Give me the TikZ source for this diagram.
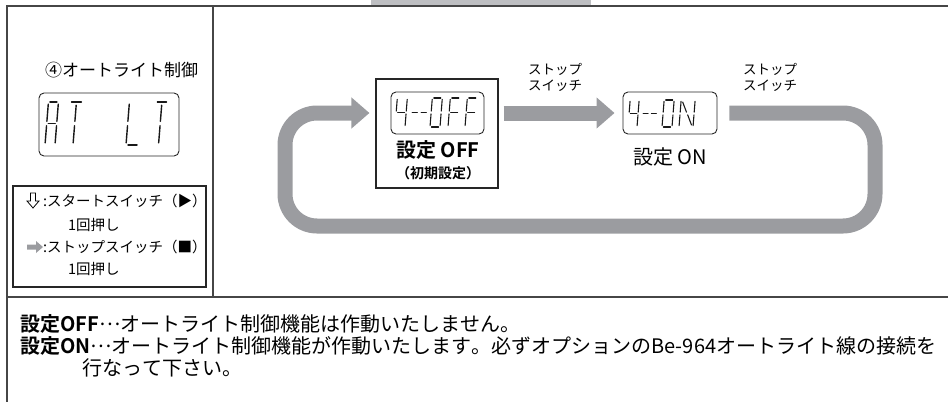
\documentclass[tikz,border=0pt]{standalone}
\usepackage{fontspec}
\setmainfont{Noto Sans CJK JP}[BoldFont={Noto Sans CJK JP Bold},Kerning=Off]
\usetikzlibrary{arrows.meta}
\definecolor{loopgray}{RGB}{155,156,160}
\definecolor{tabgray}{RGB}{190,191,194}
\definecolor{framegray}{RGB}{70,70,70}
% LCD segments in a 1 x 2 cell
\def\sgA{\draw[lcdseg] (0.15,2)--(0.85,2);}
\def\sgB{\draw[lcdseg] (1,1.9)--(1,1.1);}
\def\sgC{\draw[lcdseg] (1,0.9)--(1,0.1);}
\def\sgD{\draw[lcdseg] (0.15,0)--(0.85,0);}
\def\sgE{\draw[lcdseg] (0,0.9)--(0,0.1);}
\def\sgF{\draw[lcdseg] (0,1.9)--(0,1.1);}
\def\sgG{\draw[lcdseg] (0.15,1)--(0.85,1);}
\def\sgH{\draw[lcdseg] (0.5,1.85)--(0.5,1.1);}
\def\sgI{\draw[lcdseg] (0.5,0.9)--(0.5,0.1);}
\def\sgJ{\draw[lcdseg] (0.12,1.85)--(0.45,1.1);}
\def\sgK{\draw[lcdseg] (0.55,0.9)--(0.88,0.15);}
\def\sgM{\draw[lcdseg] (0,1)--(0.35,1);\draw[lcdseg] (0.6,1)--(0.95,1);}
% #1 x, #2 bottom y, #3 width, #4 half height, #5 segments
\newcommand\lcdglyph[5]{\begin{scope}[shift={(#1,#2)},x=#3pt,y=#4pt,xslant=0.08]
  \foreach \s in {#5}{\csname sg\s\endcsname}\end{scope}}
\newcommand\mdots{\smash{\raisebox{0.28em}{…}}}
\begin{document}
\begin{tikzpicture}[x=1pt,y=-1pt,
  frame/.style={draw=framegray,line width=1.4pt},
  boxline/.style={draw=black!85,line width=1.1pt,inner sep=0pt},
  lcdbox/.style={draw=black!85,line width=0.9pt,rounded corners=5pt,inner sep=0pt},
  lcdseg/.style={line width=1.1pt,line cap=round,draw=black!90},
  flow/.style={draw=loopgray,line width=15pt,-{Triangle[width=30pt,length=18pt]}},
  txt/.style={inner sep=0pt}]
\useasboundingbox (0,0) rectangle (948,402);
% frame
\fill[tabgray] (371,0) rectangle (591,6);
\draw[frame] (948,6) -- (7,6) -- (7,402);
\draw[frame] (7,297) -- (948,297);
\draw[frame] (213,6) -- (213,297);
% left panel
\node[txt,anchor=west,font=\fontsize{17}{20}\selectfont] (title) at (45,70) {④オートライト制御};
\node[lcdbox,minimum width=140pt,minimum height=63pt] (atlt) at (109,124.5) {};
\begin{scope}[lcdseg/.append style={line width=1.4pt}]
\lcdglyph{45}{145}{10}{21.5}{A,B,C,E,F,G}
\lcdglyph{66}{145}{14}{21.5}{A,H,I}
\lcdglyph{126}{145}{13}{21.5}{E,F,D}
\lcdglyph{152}{145}{13}{21.5}{A,H,I}
\end{scope}
\node[boxline,draw,minimum width=193pt,minimum height=101pt] (legend) at (109.5,236.5) {};
\draw[line width=0.8pt,fill=white] (30.5,193) -- (35.5,193) -- (35.5,201) -- (39,201) -- (33,208) -- (27,201) -- (30.5,201) -- cycle;
\fill[loopgray] (27,244.5) -- (36,244.5) -- (36,241) -- (43,247) -- (36,253) -- (36,249.5) -- (27,249.5) -- cycle;
\node[txt,anchor=west,font=\fontsize{14.5}{17}\selectfont] (lg1) at (43,201) {:スタートスイッチ（▶）};
\node[txt,anchor=west,font=\fontsize{14.5}{17}\selectfont] (lg2) at (68,225) {1回押し};
\node[txt,anchor=west,font=\fontsize{14.5}{17}\selectfont] (lg3) at (43,247) {:ストップスイッチ（■）};
\node[txt,anchor=west,font=\fontsize{14.5}{17}\selectfont] (lg4) at (68,269) {1回押し};
% right panel
\node[boxline,draw,minimum width=122pt,minimum height=109pt] (offbox) at (437,133.5) {};
\node[lcdbox,minimum width=93pt,minimum height=42pt] (offdisp) at (437.5,113) {};
\lcdglyph{395}{127}{10}{14.5}{F,G,B,C}
\lcdglyph{411}{127}{15}{14.5}{M}
\lcdglyph{430}{127}{10}{14.5}{A,B,C,D,E,F}
\lcdglyph{448}{127}{10}{14.5}{A,E,F,G}
\lcdglyph{465}{127}{10}{14.5}{A,E,F,G}
\node[txt,font=\bfseries\fontsize{20}{24}\selectfont] (offlbl) at (438,150) {設定 OFF};
\node[txt,font=\bfseries\fontsize{14}{17}\selectfont] (offsub) at (438,173) {（初期設定）};
\node[lcdbox,minimum width=94pt,minimum height=42pt] (ondisp) at (670,113) {};
\lcdglyph{628}{127}{9}{13.5}{F,G,B,C}
\lcdglyph{642}{127}{14}{13.5}{M}
\lcdglyph{662}{127}{10}{13.5}{A,B,C,D,E,F}
\lcdglyph{679}{127}{14}{13.5}{E,F,B,C,J,K}
\node[txt,font=\fontsize{20}{24}\selectfont] (onlbl) at (670,157) {設定 ON};
\node[txt,anchor=west,align=left,font=\fontsize{13.5}{16}\selectfont] (sw1) at (528,77) {ストップ\\スイッチ};
\node[txt,anchor=west,align=left,font=\fontsize{13.5}{16}\selectfont] (sw2) at (743,77) {ストップ\\スイッチ};
% connectors
\draw[flow] ([xshift=5pt]offbox.east |- offdisp) -- ([xshift=-8pt]ondisp.west);
\draw[flow,rounded corners=32pt] ([xshift=12pt]ondisp.east) -- (875,113) -- (875,226) -- (285,226) -- (285,113) -- ([xshift=-6pt]offbox.west |- offdisp);
% bottom text
\node[txt,anchor=west,font=\fontsize{20}{22}\selectfont] (t1) at (20,324) {\textbf{設定OFF}\mdots オートライト制御機能は作動いたしません。};
\node[txt,anchor=west,font=\fontsize{20}{22}\selectfont] (t2) at (20,346) {\textbf{設定ON}\mdots オートライト制御機能が作動いたします。必ずオプションのBe-964オートライト線の接続を};
\node[txt,anchor=west,font=\fontsize{20}{22}\selectfont] (t3) at (82,368) {行なって下さい。};
\end{tikzpicture}
\end{document}
